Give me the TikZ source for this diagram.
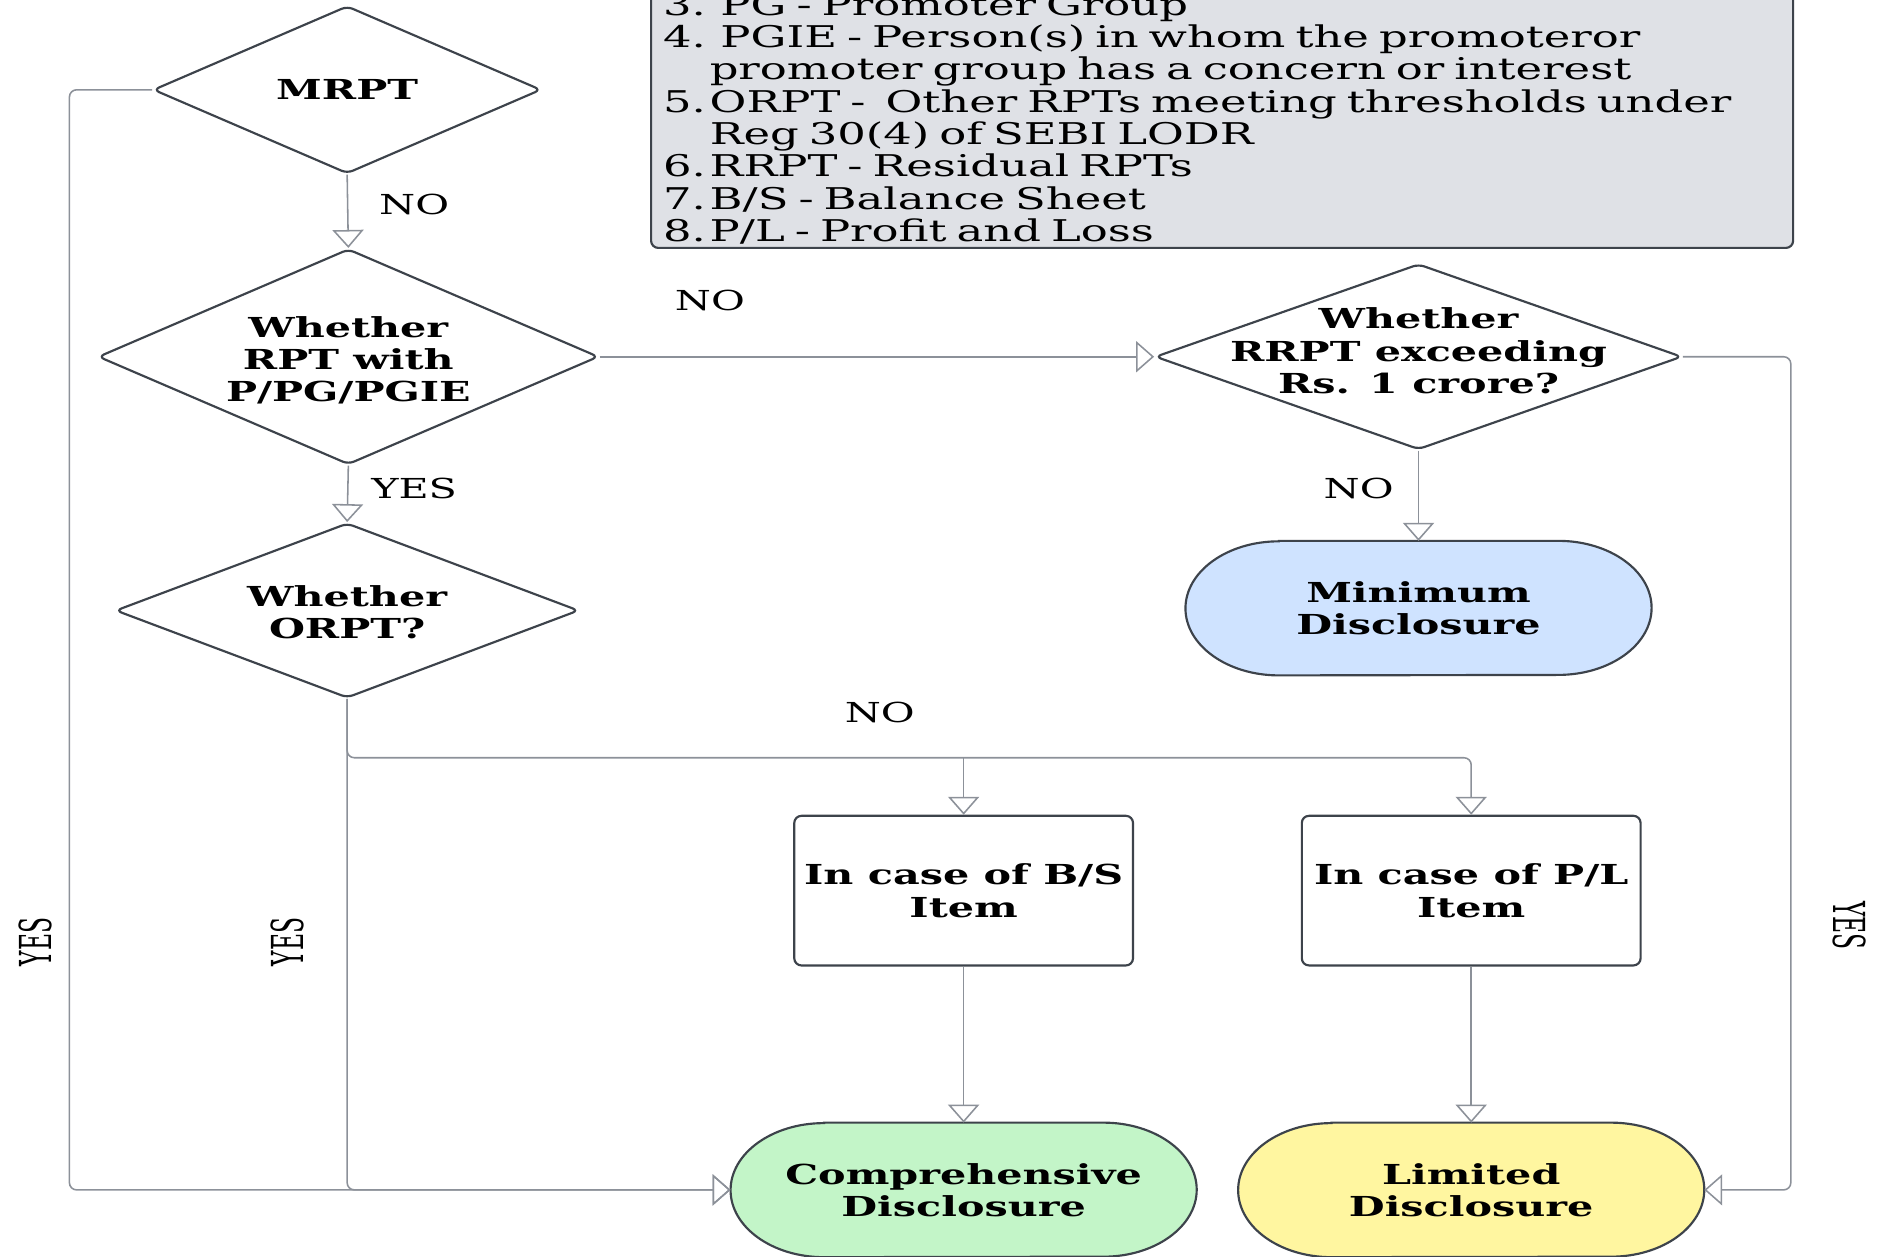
\documentclass[tikz,border=0pt]{standalone}
\usepackage{fontspec}
\usepackage{graphicx}
\setmainfont{DejaVu Serif}[FakeStretch=1.5]
\newfontfamily\yesfont{DejaVu Serif}
\usetikzlibrary{shapes.geometric,arrows.meta,backgrounds}

\definecolor{edgegray}{HTML}{3D434B}
\definecolor{linegray}{HTML}{8C9199}
\definecolor{notegray}{HTML}{DFE1E6}
\definecolor{minblue}{HTML}{CFE3FF}
\definecolor{compgreen}{HTML}{C3F5C8}
\definecolor{limyellow}{HTML}{FFF6A0}
\newcommand\flowsize{\fontsize{23}{27}\selectfont}

\tikzset{
  decision/.style={diamond,draw=edgegray,line width=1.8pt,fill=white,
    inner sep=0pt,rounded corners=5pt},
  dtext/.style={font=\flowsize\bfseries,align=center,inner sep=0pt},
  process/.style={rectangle,draw=edgegray,line width=1.8pt,rounded corners=6pt,
    minimum width=283pt,minimum height=125pt,align=center,font=\flowsize\bfseries},
  terminal/.style={minimum width=389pt,minimum height=112pt,inner sep=0pt,
    align=center,font=\flowsize\bfseries},
  termline/.style={draw=edgegray,line width=1.8pt},
  legend/.style={draw=edgegray,line width=1.8pt,fill=notegray,rounded corners=6pt,
    text width=934pt,inner xsep=10pt,inner ysep=3pt,align=left,
    font=\fontsize{25}{27}\selectfont},
  flow/.style={draw=linegray,line width=1.3pt,rounded corners=6pt},
  arrowflow/.style={flow,-{Triangle[open,length=15pt,width=26pt]}},
  answer/.style={font=\flowsize,inner sep=0pt},
  sideanswer/.style={font=\flowsize\yesfont,inner sep=0pt,rotate=90},
}

\begin{document}
\begin{tikzpicture}[x=1pt,y=1pt]
\useasboundingbox (0,0) rectangle (1568,-1050);

% decisions
\node[decision,minimum width=324pt,minimum height=140pt,
  label={[dtext]center:MRPT}] (mrpt) at (290,-75) {};
\node[decision,minimum width=418pt,minimum height=180pt,
  label={[dtext,yshift=-3pt]center:Whether\\RPT with\\P/PG/PGIE}] (rptchk) at (291,-298) {};
\node[decision,minimum width=387pt,minimum height=146pt,
  label={[dtext,yshift=-1.5pt]center:Whether\\ORPT?}] (orpt) at (290,-510) {};
\node[decision,minimum width=440pt,minimum height=155pt,
  label={[dtext,yshift=5pt]center:Whether\\RRPT exceeding\\Rs. 1 crore?}] (rrpt) at (1185,-298) {};

% items and outcomes
\node[process] (bsitem) at (805,-744) {In case of B/S\\Item};
\node[process] (plitem) at (1229,-744) {In case of P/L\\Item};
\node[terminal] (mindisc) at (1185,-508) {Minimum\\Disclosure};
\node[terminal] (compdisc) at (805,-994) {Comprehensive\\Disclosure};
\node[terminal] (limdisc) at (1229,-994) {Limited\\Disclosure};

\begin{scope}[on background layer]
\foreach \n/\c in {mindisc/minblue,compdisc/compgreen,limdisc/limyellow}
  \draw[termline,fill=\c] ([xshift=78pt]\n.north west) -- ([xshift=-78pt]\n.north east)
    arc[start angle=90,end angle=-90,x radius=78pt,y radius=56pt]
    -- ([xshift=78pt]\n.south west)
    arc[start angle=270,end angle=90,x radius=78pt,y radius=56pt] -- cycle;
\end{scope}

% abbreviations
\node[legend,anchor=south west] (notes) at (543,-208) {%
\makebox[39pt][l]{3.}\hspace{9pt}PG - Promoter Group\\
\makebox[39pt][l]{4.}\hspace{9pt}PGIE - Person(s) in whom the promoteror\\
\hspace*{39pt}promoter group has a concern or interest\\
\makebox[39pt][l]{5.}ORPT - \ Other RPTs meeting thresholds under\\
\hspace*{39pt}Reg 30(4) of SEBI LODR\\
\makebox[39pt][l]{6.}RRPT - Residual RPTs\\
\makebox[39pt][l]{7.}B/S - Balance Sheet\\
\makebox[39pt][l]{8.}P/L - Profit and Loss};

% rails
\coordinate (leftrail) at (58,-75);
\coordinate (rightrail) at (1496,-298);
\coordinate (nosplit) at (290,-633);

\draw[arrowflow] (mrpt.south) -- (rptchk.north);
\draw[arrowflow] (rptchk.south) -- (orpt.north);
\draw[arrowflow] (rptchk.east) -- (rrpt.west);
\draw[arrowflow] (rrpt.south) -- (mindisc.north);
\draw[arrowflow] (orpt.south) -- (nosplit) -| (plitem.north);
\draw[arrowflow] (bsitem.north |- nosplit) -- (bsitem.north);
\draw[arrowflow] (orpt.south) |- (compdisc.west);
\draw[arrowflow] (mrpt.west) -- (leftrail) |- (compdisc.west);
\draw[arrowflow] (rrpt.east) -- (rightrail) |- (limdisc.east);
\draw[arrowflow] (bsitem.south) -- (compdisc.north);
\draw[arrowflow] (plitem.south) -- (limdisc.north);

% answers
\node[answer] (no mrpt) at (346,-171) {NO};
\node[answer] (yes rpt) at (346,-408) {YES};
\node[answer] (no rpt) at (593,-251) {NO};
\node[answer] (no rrpt) at (1135,-408) {NO};
\node[answer] (no orpt) at (735,-595) {NO};
\node[sideanswer] (yes mrpt) at (30,-787) {\scalebox{0.85}[1.6]{YES}};
\node[sideanswer] (yes orpt) at (240,-787) {\scalebox{0.85}[1.6]{YES}};
\node[sideanswer,rotate=180] (yes rrpt) at (1545,-773) {\scalebox{0.85}[1.6]{YES}};
\end{tikzpicture}
\end{document}
